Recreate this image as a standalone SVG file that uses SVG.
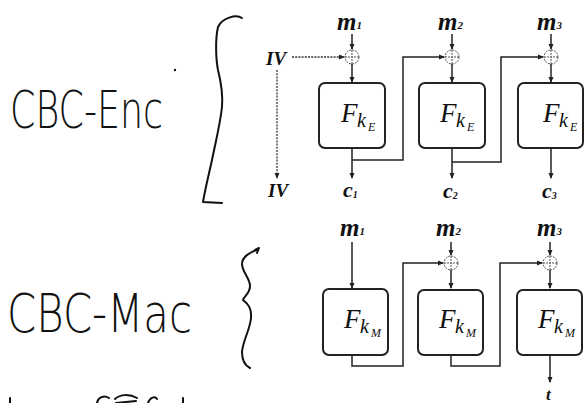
<svg xmlns="http://www.w3.org/2000/svg" width="584" height="403" viewBox="0 0 584 403">
<defs>
<marker id="ah" markerWidth="6" markerHeight="6" refX="5" refY="3" orient="auto" markerUnits="userSpaceOnUse">
<path d="M0,0.5 L6,3 L0,5.5 Z" fill="#222"/>
</marker>
<style>
.hand{font-family:"DejaVu Sans","Liberation Sans",sans-serif;font-weight:200;fill:#111}
.ink{fill:none;stroke:#111;stroke-width:2;stroke-linecap:round;stroke-linejoin:round}
.box{fill:#fff;stroke:#222;stroke-width:2}
.ln{fill:none;stroke:#222;stroke-width:1.5}
.dash{fill:none;stroke:#333;stroke-width:1.3;stroke-dasharray:2 1.2}
.xor{fill:#fff;stroke:#555;stroke-width:1;stroke-dasharray:2 1}
.lab{font-family:"Liberation Serif",serif;font-style:italic;font-weight:bold;fill:#111}
.fn{font-family:"Liberation Serif",serif;font-style:italic;fill:#111}
</style>
</defs>
<rect width="584" height="403" fill="#fff"/>

<!-- handwriting -->
<g id="hand-enc">
<text class="hand" x="10" y="128" font-size="52" textLength="153" lengthAdjust="spacingAndGlyphs">CBC-Enc</text>
<circle cx="175" cy="70" r="1.2" fill="#111"/>
<path class="ink" d="M242,18 C236,14 222,18 218,27 C215,40 216,60 218,70 C221,82 223,95 222,107 C220,125 216,140 212,160 C208,178 205,190 203,202 L222,203"/>
</g>
<g id="hand-mac">
<text class="hand" x="7" y="332" font-size="54" textLength="185" lengthAdjust="spacingAndGlyphs">CBC-Mac</text>
<path class="ink" d="M257,250 C250,252 242,257 242,264 C242,272 250,278 250,286 C250,294 243,297 243,300 C246,303 252,306 251,318 C250,330 243,340 242,352 C242,362 246,366 250,368"/>
<path class="ink" d="M255,250 L259,248 L257,253"/>
</g>
<g id="hand-bottom">
<path class="ink" d="M10,398 L10,403"/>
<path class="ink" d="M97,403 C98,397 104,395 109,398"/>
<path class="ink" d="M115,399 C120,394 130,394 137,398"/>
<path class="ink" d="M116,403 L136,401"/>
<path class="ink" d="M148,403 C150,397 155,396 157,399"/>
<path class="ink" d="M183,398 L183,403"/>
</g>

<!-- connectors -->
<g id="connectors">
<line class="ln" x1="352" y1="34" x2="352" y2="49" marker-end="url(#ah)"/>
<line class="ln" x1="452" y1="34" x2="452" y2="49" marker-end="url(#ah)"/>
<line class="ln" x1="551" y1="34" x2="551" y2="49" marker-end="url(#ah)"/>
<line class="ln" x1="352" y1="64" x2="352" y2="82" marker-end="url(#ah)"/>
<line class="ln" x1="452" y1="64" x2="452" y2="82" marker-end="url(#ah)"/>
<line class="ln" x1="551" y1="64" x2="551" y2="82" marker-end="url(#ah)"/>
<line class="dash" x1="292" y1="57" x2="344" y2="57" marker-end="url(#ah)"/>
<line class="dash" x1="277" y1="70" x2="277" y2="178" marker-end="url(#ah)"/>
<line class="ln" x1="352" y1="148" x2="352" y2="178" marker-end="url(#ah)"/>
<line class="ln" x1="452" y1="148" x2="452" y2="178" marker-end="url(#ah)"/>
<line class="ln" x1="551" y1="148" x2="551" y2="178" marker-end="url(#ah)"/>
<polyline class="ln" points="352,160 403,160 403,57 444,57" marker-end="url(#ah)"/>
<polyline class="ln" points="452,162 501,162 501,57 543,57" marker-end="url(#ah)"/>

<line class="ln" x1="352" y1="242" x2="352" y2="288" marker-end="url(#ah)"/>
<line class="ln" x1="451" y1="242" x2="451" y2="255" marker-end="url(#ah)"/>
<line class="ln" x1="550" y1="242" x2="550" y2="255" marker-end="url(#ah)"/>
<line class="ln" x1="451" y1="270" x2="451" y2="288" marker-end="url(#ah)"/>
<line class="ln" x1="550" y1="270" x2="550" y2="288" marker-end="url(#ah)"/>
<polyline class="ln" points="352,355 352,366 403,366 403,263 443,263" marker-end="url(#ah)"/>
<polyline class="ln" points="451,355 451,366 500,366 500,263 542,263" marker-end="url(#ah)"/>
<line class="ln" x1="550" y1="355" x2="550" y2="382" marker-end="url(#ah)"/>
</g>

<!-- XOR nodes -->
<g id="xor-e1"><circle class="xor" cx="352" cy="57" r="7"/><path class="xor" d="M352,50 V64 M345,57 H359"/></g>
<g id="xor-e2"><circle class="xor" cx="452" cy="57" r="7"/><path class="xor" d="M452,50 V64 M445,57 H459"/></g>
<g id="xor-e3"><circle class="xor" cx="551" cy="57" r="7"/><path class="xor" d="M551,50 V64 M544,57 H558"/></g>
<g id="xor-m2"><circle class="xor" cx="451" cy="263" r="7"/><path class="xor" d="M451,256 V270 M444,263 H458"/></g>
<g id="xor-m3"><circle class="xor" cx="550" cy="263" r="7"/><path class="xor" d="M550,256 V270 M543,263 H557"/></g>

<!-- Enc boxes -->
<g id="enc1"><rect class="box" x="319" y="83" width="66" height="65" rx="6"/>
<text class="fn" x="341" y="122" font-size="27">F</text><text class="fn" x="357" y="127" font-size="20">k</text><text class="fn" x="368" y="131" font-size="12">E</text></g>
<g id="enc2"><rect class="box" x="419" y="83" width="66" height="65" rx="6"/>
<text class="fn" x="440" y="122" font-size="27">F</text><text class="fn" x="456" y="127" font-size="20">k</text><text class="fn" x="467" y="131" font-size="12">E</text></g>
<g id="enc3"><rect class="box" x="518" y="83" width="65" height="65" rx="6"/>
<text class="fn" x="543" y="122" font-size="27">F</text><text class="fn" x="559" y="127" font-size="20">k</text><text class="fn" x="570" y="131" font-size="12">E</text></g>

<!-- Mac boxes -->
<g id="mac1"><rect class="box" x="323" y="289" width="65" height="66" rx="6"/>
<text class="fn" x="344" y="328" font-size="27">F</text><text class="fn" x="360" y="333" font-size="20">k</text><text class="fn" x="371" y="337" font-size="12">M</text></g>
<g id="mac2"><rect class="box" x="418" y="290" width="65" height="65" rx="6"/>
<text class="fn" x="439" y="328" font-size="27">F</text><text class="fn" x="455" y="333" font-size="20">k</text><text class="fn" x="466" y="337" font-size="12">M</text></g>
<g id="mac3"><rect class="box" x="517" y="290" width="65" height="65" rx="6"/>
<text class="fn" x="538" y="328" font-size="27">F</text><text class="fn" x="554" y="333" font-size="20">k</text><text class="fn" x="565" y="337" font-size="12">M</text></g>

<!-- labels -->
<g id="labels">
<text class="lab" x="337" y="30" font-size="25">m<tspan font-size="11" dy="-1">1</tspan></text>
<text class="lab" x="438" y="30" font-size="25">m<tspan font-size="11" dy="-1">2</tspan></text>
<text class="lab" x="537" y="30" font-size="25">m<tspan font-size="11" dy="-1">3</tspan></text>
<text class="lab" x="266" y="65" font-size="19">IV</text>
<text class="lab" x="268" y="197" font-size="19">IV</text>
<text class="lab" x="343" y="197" font-size="22">c<tspan font-size="10" dy="1">1</tspan></text>
<text class="lab" x="443" y="198" font-size="22">c<tspan font-size="10" dy="1">2</tspan></text>
<text class="lab" x="542" y="198" font-size="22">c<tspan font-size="10" dy="1">3</tspan></text>
<text class="lab" x="340" y="236" font-size="25">m<tspan font-size="11" dy="-1">1</tspan></text>
<text class="lab" x="436" y="236" font-size="25">m<tspan font-size="11" dy="-1">2</tspan></text>
<text class="lab" x="537" y="236" font-size="25">m<tspan font-size="11" dy="-1">3</tspan></text>
<text class="lab" x="546" y="400" font-size="17">t</text>
</g>
</svg>
